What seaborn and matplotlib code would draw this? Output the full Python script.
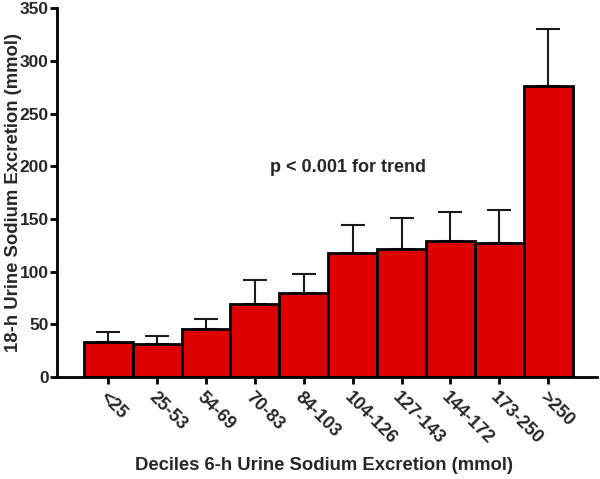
import matplotlib
matplotlib.use("Agg")
import matplotlib.pyplot as plt
import seaborn as sns
import pandas as pd
import numpy as np

categories = ["<25", "25-53", "54-69", "70-83", "84-103", "104-126", "127-143", "144-172", "173-250", ">250"]
means = [33.5, 31.6, 45.8, 69.5, 79.4, 117.4, 121.4, 129.3, 127.4, 276.0]
upper = [42.7, 39.0, 55.3, 91.7, 98.0, 144.0, 150.6, 156.8, 158.4, 330.5]
yticks = [0, 50, 100, 150, 200, 250, 300, 350]

sns.set_theme(style="ticks")
plt.rcParams['font.family'] = ['Liberation Sans', 'DejaVu Sans']
plt.rcParams['font.weight'] = 'bold'

df = pd.DataFrame({"cat": categories, "val": means})
err = np.array(upper) - np.array(means)

fig = plt.figure(figsize=(6.0, 4.79), dpi=100)
ax = fig.add_axes([0.095, 0.213, 0.900, 0.770])

x = np.arange(len(categories))
ax.errorbar(x, means, yerr=[np.zeros(len(err)), err], fmt='none', ecolor='#1a1a1a',
            elinewidth=1.5, capsize=8.7, capthick=1.5, zorder=1)
sns.barplot(data=df, x="cat", y="val", color="#DD0000", saturation=1, width=1.0,
            edgecolor="black", linewidth=2, errorbar=None, ax=ax, zorder=2)

ax.set_xlim(-1.05, 10.0)
ax.set_ylim(0, 350)
ax.set_yticks(yticks)
ax.set_yticklabels([str(t) for t in yticks], fontsize=12.5, fontweight='bold')
ax.set_xticks(x)
ax.set_xticklabels(categories, rotation=-45, ha='left', va='top', rotation_mode='anchor',
                   fontsize=13, fontweight='bold')
for lbl in ax.get_xticklabels():
    lbl.set_transform(lbl.get_transform() + matplotlib.transforms.ScaledTranslation(0.01, -0.05, fig.dpi_scale_trans))

ax.set_xlabel("Deciles 6-h Urine Sodium Excretion (mmol)", fontsize=13.3, fontweight='bold')
ax.xaxis.set_label_coords(0.495, -0.218)
ax.set_ylabel("18-h Urine Sodium Excretion (mmol)", fontsize=13.3, fontweight='bold')
ax.yaxis.set_label_coords(-0.064, 0.5)

ax.text(4.9, 199, "p < 0.001 for trend", ha='center', va='center', fontsize=13, fontweight='bold')

sns.despine(ax=ax)
for s in ["left", "bottom"]:
    ax.spines[s].set_linewidth(2)
    ax.spines[s].set_color("black")
ax.tick_params(axis='both', length=5, width=2, color='black', direction='out')
ax.tick_params(axis='y', pad=1)

fig.savefig("out.png", dpi=100)
